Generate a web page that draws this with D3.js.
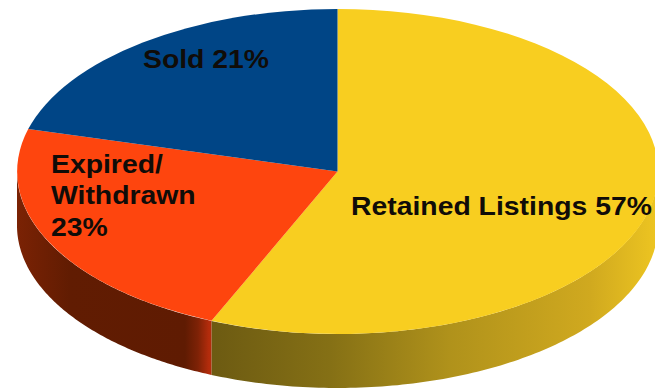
<!DOCTYPE html>
<html>
<head>
<meta charset="utf-8">
<script src="https://cdn.jsdelivr.net/npm/d3@7"></script>
<style>
  html, body { margin: 0; padding: 0; background: #fff; }
  svg { display: block; }
  text { font-family: "Liberation Sans", Arial, sans-serif; font-weight: 700; fill: #100c08; }
</style>
</head>
<body>
<svg id="chart" width="655" height="388"></svg>
<script>
// Listing outcomes, in clockwise order from twelve o'clock
const categories = ["Retained Listings", "Expired/Withdrawn", "Sold"];
const shares = [57, 23, 21];
const topColors = ["#f8ce20", "#fe450e", "#004586"];

// Label lines for each wedge
const labelLines = [
  ["Retained Listings 57%"],
  ["Expired/", "Withdrawn", "23%"],
  ["Sold 21%"]
];
const labelAnchors = [[351, 215], [51, 172.5], [143, 68]];
const labelLeading = 32;
const labelStretch = 1.07;

// Shading along the visible wall, per wedge: [x, colour]
const wallStops = [
  [[209, "#6c5a12"], [330, "#857015"], [450, "#b0921b"], [590, "#d0a91f"], [655, "#ecc421"]],
  [[18, "#7a2204"], [70, "#611c02"], [185, "#5f1b02"], [198, "#7e2206"], [209, "#b42c0c"]]
];

const width = 655, height = 388;
const cx = 337.5, cy = 171.5, rx = 320.5, ry = 162.5, depth = 54;

const svg = d3.select("#chart");

// Unit-circle coordinates map onto the tilted disc through these scales
const sx = d3.scaleLinear().domain([-1, 1]).range([cx - rx, cx + rx]);
const sy = d3.scaleLinear().domain([-1, 1]).range([cy - ry, cy + ry]);

const pie = d3.pie().sort(null).value(d => d);
const wedges = pie(shares);

const rimX = a => sx(Math.sin(a));
const rimY = a => sy(-Math.cos(a));

// Wall gradients run horizontally in page space
const defs = svg.append("defs");
wallStops.forEach((stops, i) => {
  const x = d3.scaleLinear().domain(d3.extent(stops, s => s[0])).range([0, 1]);
  const grad = defs.append("linearGradient")
    .attr("id", "wall" + i)
    .attr("gradientUnits", "userSpaceOnUse")
    .attr("x1", x.domain()[0]).attr("x2", x.domain()[1])
    .attr("y1", 0).attr("y2", 0);
  stops.forEach(s => grad.append("stop").attr("offset", x(s[0])).attr("stop-color", s[1]));
});

// Walls: only the front half of the disc rim shows below the top face
const frontStart = Math.PI / 2, frontEnd = Math.PI * 1.5;
const wallArea = d3.area()
  .x(a => rimX(a))
  .y0(a => rimY(a))
  .y1(a => rimY(a) + depth);

wedges.forEach((w, i) => {
  const a0 = Math.max(w.startAngle, frontStart);
  const a1 = Math.min(w.endAngle, frontEnd);
  if (a1 <= a0) return;
  svg.append("path")
    .attr("d", wallArea(d3.range(0, 121).map(k => a0 + (a1 - a0) * k / 120)))
    .attr("fill", `url(#wall${i})`);
});

// Top face: a flat pie squashed vertically
const arc = d3.arc().innerRadius(0).outerRadius(1);
svg.append("g")
  .attr("transform", `translate(${cx},${cy}) scale(${rx},${ry})`)
  .selectAll("path")
  .data(wedges)
  .join("path")
  .attr("d", arc)
  .attr("fill", (d, i) => topColors[i]);

// Wedge labels, set slightly wide
labelLines.forEach((lines, i) => {
  const [x, y] = labelAnchors[i];
  svg.append("text")
    .attr("transform", `translate(${x},${y}) scale(${labelStretch},1)`)
    .attr("font-size", 26.5)
    .selectAll("tspan")
    .data(lines)
    .join("tspan")
    .attr("x", 0)
    .attr("y", (d, k) => k * labelLeading)
    .text(d => d);
});
</script>
</body>
</html>
